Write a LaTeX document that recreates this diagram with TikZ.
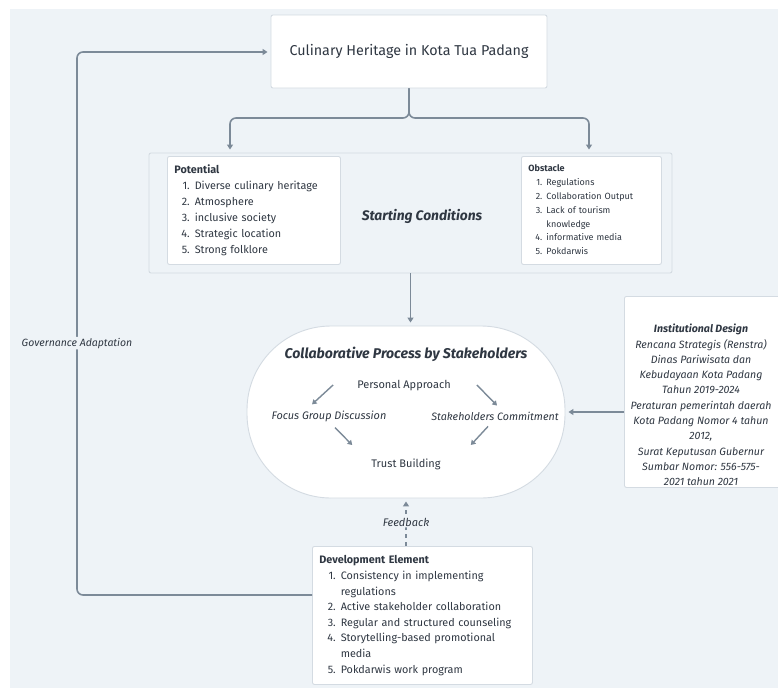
\documentclass[tikz,border=0pt]{standalone}
\usepackage{fontspec}
\setmainfont{Fira Sans}
\usepackage{xcolor}
\usepackage{tikz}
\usetikzlibrary{arrows.meta,positioning}

\definecolor{canvas}{HTML}{EEF3F7}
\definecolor{wire}{HTML}{7C8A98}
\definecolor{rim}{HTML}{D4DBE2}
\definecolor{ink}{HTML}{2F3742}

\begin{document}
\begin{tikzpicture}[
  x=1pt, y=-1pt,
  every node/.style={text=ink},
  panel/.style={
    draw=rim,
    fill=white,
    line width=0.9pt,
    rounded corners=2pt
  },
  listbox/.style={
    panel,
    anchor=north west,
    align=left,
    inner xsep=7pt
  },
  conn/.style={draw=wire,line width=1.6pt,rounded corners=6pt,
    -{Triangle[length=5pt,width=6pt]},shorten >=3pt},
  minor/.style={draw=wire,line width=1.4pt,
    -{Triangle[length=4.5pt,width=5.5pt]}}
]
\fill[canvas] (10,9) rectangle (778,688);
\useasboundingbox (0,0) rectangle (778,688);

\node[panel,minimum width=276pt,minimum height=73pt,
  font=\fontsize{14.3}{17}\selectfont] (heritage) at (409,51.5)
  {Culinary Heritage in Kota Tua Padang};

\node[panel,fill=canvas,minimum width=523pt,minimum height=120pt] (start)
  at (410.5,213) {};
\node[font=\fontsize{13.8}{16}\selectfont\bfseries\itshape] (startlabel)
  at (422,216) {Starting Conditions};

\node[listbox,text width=159pt,minimum height=108pt,
  font=\fontsize{10.8}{16}\selectfont] (potential) at (167,156)
  {\begin{tabular}{@{\hspace{7pt}}r@{\hspace{5pt}}l@{}}
   \multicolumn{2}{@{}l}{\textbf{Potential}}\\
   1. & Diverse culinary heritage\\
   2. & Atmosphere\\
   3. & inclusive society\\
   4. & Strategic location\\
   5. & Strong folklore
   \end{tabular}};

\node[listbox,text width=126pt,minimum height=108pt,
  font=\fontsize{9}{13.8}\selectfont] (obstacle) at (521,156)
  {\begin{tabular}{@{\hspace{7pt}}r@{\hspace{4pt}}l@{}}
   \multicolumn{2}{@{}l}{\textbf{Obstacle}}\\
   1. & Regulations\\
   2. & Collaboration Output\\
   3. & Lack of tourism\\
      & knowledge\\
   4. & informative media\\
   5. & Pokdarwis
   \end{tabular}};

% collaborative process
\node[draw=rim,fill=white,line width=0.9pt,rounded corners=84pt,
  minimum width=318pt,minimum height=172pt] (collab) at (406,412) {};
\node[font=\fontsize{14.1}{17}\selectfont\bfseries\itshape] (collabtitle)
  at (406,354) {Collaborative Process by Stakeholders};
\node[inner sep=0pt,font=\fontsize{11}{13}\selectfont] (personal)
  at (404,386) {Personal Approach};
\node[inner sep=0pt,font=\fontsize{10.9}{13}\selectfont\itshape] (fgd)
  at (329,416) {Focus Group Discussion};
\node[inner sep=0pt,font=\fontsize{10.7}{13}\selectfont\itshape] (commit)
  at (495,416) {Stakeholders Commitment};
\node[inner sep=0pt,font=\fontsize{11}{13}\selectfont] (trust)
  at (406,464) {Trust Building};
\draw[minor] ([shift={(-24,-1)}]personal.west) -- ([shift={(-17,-6)}]fgd.north);
\draw[minor] ([shift={(26,-1)}]personal.east) -- ([shift={(2,-6)}]commit.north);
\draw[minor] ([shift={(6,6)}]fgd.south) -- ([shift={(-19,-19)}]trust.west);
\draw[minor] ([shift={(-7,6)}]commit.south) -- ([shift={(30,-19)}]trust.east);

\node[panel,anchor=north west,minimum width=220pt,minimum height=191pt]
  (institution) at (624,296) {};
\node[align=center,font=\fontsize{10.6}{15.3}\selectfont\itshape]
  (institutiontext) at (701,405)
  {\textbf{Institutional Design}\\
   Rencana Strategis (Renstra)\\
   Dinas Pariwisata dan\\
   Kebudayaan Kota Padang\\
   Tahun 2019-2024\\
   Peraturan pemerintah daerah\\
   Kota Padang Nomor 4 tahun\\
   2012,\\
   Surat Keputusan Gubernur\\
   Sumbar Nomor: 556-575-\\
   2021 tahun 2021};

\node[listbox,text width=206pt,minimum height=138pt,
  font=\fontsize{10.8}{15.6}\selectfont] (devel) at (312,546)
  {\begin{tabular}{@{\hspace{8pt}}r@{\hspace{5pt}}l@{}}
   \multicolumn{2}{@{}l}{\textbf{Development Element}}\\
   1. & Consistency in implementing\\
      & regulations\\
   2. & Active stakeholder collaboration\\
   3. & Regular and structured counseling\\
   4. & Storytelling-based promotional\\
      & media\\
   5. & Pokdarwis work program
   \end{tabular}};

% connectors
\coordinate (splitL) at (230,118);
\coordinate (splitR) at (589,118);
\draw[conn] (heritage.south) |- (splitL) -- (splitL |- start.north);
\draw[conn] (heritage.south) |- (splitR) -- (splitR |- start.north);
\draw[conn] (start.south) -- (start.south |- collab.north);
\draw[conn] (institution.west |- collab.east) -- (collab.east);
\draw[conn,dash pattern=on 4pt off 4pt] (collab.south |- devel.north)
  -- node[fill=canvas,inner sep=1pt,font=\fontsize{11}{13}\selectfont\itshape]
  (feedback) {Feedback} (collab.south);

\coordinate (govlow) at (77,595);
\coordinate (govhigh) at (77,52);
\draw[conn] (devel.west |- govlow) -- (govlow)
  -- node[pos=0.464,fill=canvas,inner sep=1pt,
    font=\fontsize{10.5}{12}\selectfont\itshape] (govlabel)
  {Governance Adaptation} (govhigh) -- (heritage.west |- govhigh);
\end{tikzpicture}
\end{document}
